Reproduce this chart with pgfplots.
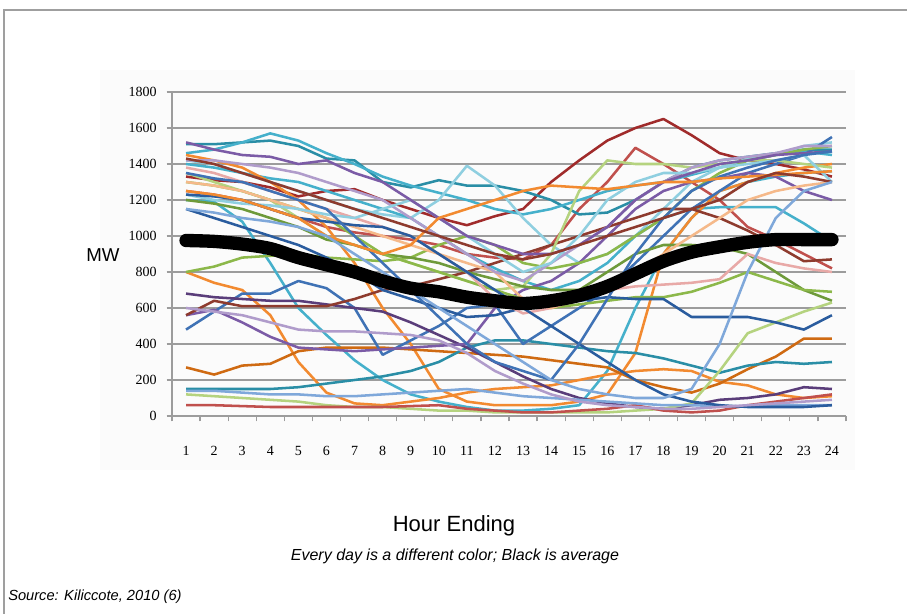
\documentclass[border=0pt]{standalone}
\usepackage{fontspec}
\setmainfont{Liberation Serif}
\setsansfont{Liberation Sans}
\usepackage{pgfplots}
\pgfplotsset{compat=1.18}

\definecolor{cteal}{HTML}{2A8EA6}
\definecolor{caqua}{HTML}{45B0CB}
\definecolor{claqua}{HTML}{8FCFE0}
\definecolor{cblue}{HTML}{3F72B5}
\definecolor{cdblue}{HTML}{2A5C9E}
\definecolor{clblue}{HTML}{7FA8DA}
\definecolor{cdred}{HTML}{A02B2B}
\definecolor{cred}{HTML}{C0504D}
\definecolor{cbrown}{HTML}{8E3B2E}
\definecolor{cgreen}{HTML}{8CB84A}
\definecolor{cdgreen}{HTML}{6E9A3A}
\definecolor{clgreen}{HTML}{B5D37F}
\definecolor{cpurple}{HTML}{7B5BA6}
\definecolor{cdpurple}{HTML}{5A3D7A}
\definecolor{clpurple}{HTML}{B09CCB}
\definecolor{corange}{HTML}{F28A30}
\definecolor{cdorange}{HTML}{CF6A12}
\definecolor{cpeach}{HTML}{F5B98A}
\definecolor{cpink}{HTML}{E8A9A7}
\definecolor{cgrid}{HTML}{9C9C9C}

\newcommand{\dayline}[2]{\addplot[#1] coordinates {#2};}

\begin{document}
\begin{tikzpicture}
% page frame, 907 x 614 px at 0.75pt per px
\path[use as bounding box] (0,0) rectangle (680.25pt,460.5pt);
\fill[gray!3] (75pt,108pt) rectangle (641pt,408pt);
\draw[line width=1.5pt, color=gray!75] (3pt,0pt) -- (3pt,453pt) -- (681pt,453pt);

\begin{axis}[
    at={(129pt,148.5pt)}, anchor=south west,
    scale only axis,
    width=505.5pt, height=243pt,
    xmin=0.5, xmax=24.5,
    ymin=0, ymax=1800,
    axis lines*=left,
    axis line style={cgrid, line width=1.2pt},
    xtick={1,...,24},
    minor xtick={0.5,1.5,...,24.5},
    ytick={0,200,...,1800},
    major x tick style={draw=none},
    minor x tick style={cgrid, line width=0.9pt},
    y tick style={cgrid, line width=0.9pt},
    tick align=outside,
    major tick length=4pt, minor tick length=4pt,
    ymajorgrids,
    grid style={cgrid, line width=1.4pt},
    /pgf/number format/1000 sep={},
    /pgf/number format/assume math mode=true,
    tick label style={font=\fontsize{10.5}{12}\selectfont},
    xticklabel style={yshift=-15pt},
    yticklabel style={xshift=-4pt},
    clip=false,
    every axis plot/.append style={line width=1.9pt, line join=round},
]
\dayline{cdred}{(1,1330)(2,1310)(3,1300)(4,1270)(5,1220)(6,1250)(7,1260)(8,1200)(9,1150)(10,1100)(11,1060)(12,1110)(13,1150)(14,1300)(15,1420)(16,1530)(17,1600)(18,1650)(19,1560)(20,1460)(21,1420)(22,1400)(23,1370)(24,1330)}
\dayline{cred}{(1,1250)(2,1230)(3,1200)(4,1150)(5,1100)(6,1050)(7,1020)(8,1000)(9,980)(10,950)(11,900)(12,880)(13,870)(14,950)(15,1150)(16,1300)(17,1490)(18,1400)(19,1300)(20,1200)(21,1050)(22,980)(23,900)(24,820)}
\dayline{cteal}{(1,1510)(2,1510)(3,1520)(4,1530)(5,1500)(6,1430)(7,1420)(8,1300)(9,1270)(10,1310)(11,1280)(12,1280)(13,1250)(14,1200)(15,1120)(16,1130)(17,1200)(18,1300)(19,1380)(20,1420)(21,1440)(22,1460)(23,1480)(24,1480)}
\dayline{caqua}{(1,1460)(2,1480)(3,1520)(4,1570)(5,1530)(6,1460)(7,1400)(8,1330)(9,1280)(10,1240)(11,1200)(12,1150)(13,1120)(14,1150)(15,1200)(16,1250)(17,1280)(18,1300)(19,1340)(20,1380)(21,1420)(22,1450)(23,1470)(24,1450)}
\dayline{claqua}{(1,1420)(2,1400)(3,1350)(4,1300)(5,1250)(6,1200)(7,1150)(8,1120)(9,1100)(10,1200)(11,1390)(12,1280)(13,1100)(14,950)(15,850)(16,900)(17,1000)(18,1150)(19,1300)(20,1380)(21,1430)(22,1450)(23,1500)(24,1520)}
\dayline{caqua}{(1,1200)(2,1190)(3,1080)(4,850)(5,600)(6,450)(7,310)(8,200)(9,120)(10,80)(11,50)(12,30)(13,30)(14,40)(15,60)(16,250)(17,600)(18,900)(19,1100)(20,1250)(21,1300)(22,1330)(23,1350)(24,1360)}
\dayline{caqua}{(1,1400)(2,1380)(3,1350)(4,1320)(5,1300)(6,1250)(7,1200)(8,1150)(9,1100)(10,1000)(11,900)(12,820)(13,750)(14,700)(15,750)(16,850)(17,1000)(18,1100)(19,1150)(20,1160)(21,1160)(22,1160)(23,1070)(24,970)}
\dayline{corange}{(1,800)(2,740)(3,700)(4,560)(5,300)(6,130)(7,70)(8,60)(9,80)(10,100)(11,130)(12,150)(13,160)(14,170)(15,200)(16,230)(17,250)(18,260)(19,250)(20,190)(21,170)(22,120)(23,100)(24,110)}
\dayline{corange}{(1,1450)(2,1420)(3,1380)(4,1300)(5,1200)(6,1050)(7,850)(8,600)(9,400)(10,150)(11,80)(12,60)(13,60)(14,60)(15,80)(16,120)(17,350)(18,900)(19,1100)(20,1250)(21,1300)(22,1350)(23,1380)(24,1400)}
\dayline{cdorange}{(1,270)(2,230)(3,280)(4,290)(5,360)(6,380)(7,380)(8,380)(9,370)(10,360)(11,350)(12,340)(13,330)(14,310)(15,290)(16,270)(17,200)(18,160)(19,130)(20,180)(21,260)(22,330)(23,430)(24,430)}
\dayline{cteal}{(1,150)(2,150)(3,150)(4,150)(5,160)(6,180)(7,200)(8,220)(9,250)(10,300)(11,380)(12,420)(13,420)(14,400)(15,380)(16,360)(17,350)(18,320)(19,280)(20,240)(21,280)(22,300)(23,290)(24,300)}
\dayline{cblue}{(1,480)(2,580)(3,680)(4,680)(5,750)(6,710)(7,600)(8,340)(9,420)(10,500)(11,600)(12,620)(13,400)(14,500)(15,600)(16,700)(17,850)(18,1000)(19,1150)(20,1250)(21,1350)(22,1400)(23,1450)(24,1550)}
\dayline{cdpurple}{(1,680)(2,660)(3,650)(4,640)(5,640)(6,620)(7,600)(8,580)(9,520)(10,450)(11,380)(12,300)(13,220)(14,150)(15,100)(16,70)(17,50)(18,40)(19,60)(20,90)(21,100)(22,120)(23,160)(24,150)}
\dayline{cpurple}{(1,560)(2,590)(3,520)(4,440)(5,380)(6,370)(7,360)(8,370)(9,380)(10,390)(11,400)(12,600)(13,700)(14,750)(15,850)(16,1000)(17,1150)(18,1250)(19,1300)(20,1320)(21,1350)(22,1330)(23,1250)(24,1200)}
\dayline{cbrown}{(1,560)(2,640)(3,610)(4,610)(5,610)(6,610)(7,650)(8,700)(9,720)(10,760)(11,800)(12,850)(13,900)(14,950)(15,1000)(16,1050)(17,1100)(18,1150)(19,1150)(20,1100)(21,1030)(22,950)(23,860)(24,870)}
\dayline{cgreen}{(1,800)(2,830)(3,880)(4,890)(5,900)(6,880)(7,870)(8,860)(9,880)(10,950)(11,1000)(12,950)(13,850)(14,820)(15,850)(16,900)(17,1000)(18,1100)(19,1250)(20,1350)(21,1420)(22,1450)(23,1480)(24,1500)}
\dayline{clgreen}{(1,1350)(2,1300)(3,1250)(4,1200)(5,1100)(6,1000)(7,950)(8,900)(9,850)(10,800)(11,750)(12,700)(13,720)(14,900)(15,1250)(16,1420)(17,1400)(18,1400)(19,1380)(20,1400)(21,1420)(22,1420)(23,1400)(24,1380)}
\dayline{cdgreen}{(1,1200)(2,1180)(3,1150)(4,1100)(5,1050)(6,980)(7,950)(8,900)(9,880)(10,850)(11,800)(12,760)(13,720)(14,700)(15,700)(16,800)(17,900)(18,950)(19,950)(20,940)(21,900)(22,800)(23,700)(24,640)}
\dayline{cgreen}{(1,1300)(2,1280)(3,1250)(4,1200)(5,1150)(6,1100)(7,1000)(8,900)(9,850)(10,800)(11,750)(12,700)(13,650)(14,600)(15,620)(16,640)(17,660)(18,660)(19,690)(20,740)(21,800)(22,750)(23,700)(24,690)}
\dayline{clgreen}{(1,120)(2,110)(3,100)(4,90)(5,80)(6,60)(7,50)(8,50)(9,40)(10,30)(11,30)(12,20)(13,20)(14,20)(15,20)(16,20)(17,30)(18,40)(19,70)(20,250)(21,460)(22,520)(23,580)(24,630)}
\dayline{cred}{(1,60)(2,60)(3,55)(4,50)(5,50)(6,50)(7,50)(8,50)(9,55)(10,60)(11,40)(12,30)(13,20)(14,20)(15,30)(16,40)(17,60)(18,30)(19,20)(20,30)(21,60)(22,80)(23,100)(24,120)}
\dayline{clblue}{(1,140)(2,140)(3,130)(4,120)(5,120)(6,110)(7,110)(8,120)(9,130)(10,140)(11,150)(12,130)(13,110)(14,100)(15,90)(16,80)(17,70)(18,60)(19,60)(20,55)(21,55)(22,60)(23,60)(24,60)}
\dayline{cdblue}{(1,1150)(2,1100)(3,1050)(4,1000)(5,950)(6,880)(7,800)(8,700)(9,650)(10,600)(11,550)(12,560)(13,600)(14,620)(15,640)(16,660)(17,650)(18,650)(19,550)(20,550)(21,550)(22,520)(23,480)(24,560)}
\dayline{cpink}{(1,1380)(2,1350)(3,1300)(4,1250)(5,1200)(6,1150)(7,1100)(8,1050)(9,1000)(10,900)(11,800)(12,650)(13,570)(14,600)(15,650)(16,700)(17,720)(18,730)(19,740)(20,760)(21,900)(22,850)(23,820)(24,800)}
\dayline{cpeach}{(1,1300)(2,1280)(3,1250)(4,1200)(5,1150)(6,1100)(7,1050)(8,1000)(9,950)(10,900)(11,850)(12,800)(13,650)(14,600)(15,650)(16,700)(17,800)(18,900)(19,1000)(20,1100)(21,1200)(22,1250)(23,1280)(24,1300)}
\dayline{clpurple}{(1,1420)(2,1420)(3,1400)(4,1380)(5,1350)(6,1300)(7,1250)(8,1200)(9,1100)(10,1000)(11,900)(12,800)(13,750)(14,850)(15,950)(16,1050)(17,1200)(18,1300)(19,1380)(20,1420)(21,1440)(22,1460)(23,1500)(24,1500)}
\dayline{claqua}{(1,1230)(2,1200)(3,1180)(4,1170)(5,1150)(6,1120)(7,1100)(8,1150)(9,1200)(10,1100)(11,1000)(12,900)(13,800)(14,850)(15,1000)(16,1200)(17,1300)(18,1350)(19,1350)(20,1380)(21,1400)(22,1420)(23,1450)(24,1300)}
\dayline{cpurple}{(1,1520)(2,1480)(3,1450)(4,1440)(5,1400)(6,1420)(7,1350)(8,1300)(9,1200)(10,1100)(11,1000)(12,950)(13,900)(14,900)(15,950)(16,1050)(17,1200)(18,1300)(19,1350)(20,1400)(21,1420)(22,1450)(23,1460)(24,1470)}
\dayline{cdblue}{(1,1230)(2,1220)(3,1200)(4,1150)(5,1100)(6,1080)(7,1060)(8,1050)(9,1000)(10,900)(11,800)(12,700)(13,600)(14,500)(15,400)(16,300)(17,200)(18,120)(19,80)(20,60)(21,50)(22,50)(23,50)(24,60)}
\dayline{cblue}{(1,1350)(2,1320)(3,1300)(4,1250)(5,1200)(6,1150)(7,1000)(8,850)(9,700)(10,550)(11,400)(12,300)(13,250)(14,200)(15,400)(16,650)(17,900)(18,1100)(19,1250)(20,1330)(21,1380)(22,1420)(23,1450)(24,1470)}
\dayline{corange}{(1,1250)(2,1230)(3,1200)(4,1150)(5,1100)(6,1000)(7,950)(8,900)(9,950)(10,1100)(11,1150)(12,1200)(13,1250)(14,1280)(15,1270)(16,1260)(17,1280)(18,1300)(19,1300)(20,1320)(21,1330)(22,1340)(23,1350)(24,1360)}
\dayline{cbrown}{(1,1430)(2,1400)(3,1350)(4,1300)(5,1250)(6,1200)(7,1150)(8,1100)(9,1050)(10,1000)(11,950)(12,900)(13,870)(14,900)(15,950)(16,1000)(17,1050)(18,1100)(19,1150)(20,1200)(21,1300)(22,1350)(23,1330)(24,1300)}
\dayline{clpurple}{(1,600)(2,580)(3,560)(4,520)(5,480)(6,470)(7,470)(8,460)(9,450)(10,420)(11,350)(12,250)(13,180)(14,120)(15,80)(16,60)(17,50)(18,40)(19,40)(20,50)(21,60)(22,70)(23,80)(24,90)}
\dayline{clblue}{(1,1150)(2,1130)(3,1100)(4,1080)(5,1050)(6,1000)(7,900)(8,800)(9,700)(10,600)(11,500)(12,400)(13,300)(14,200)(15,150)(16,120)(17,100)(18,100)(19,150)(20,400)(21,800)(22,1100)(23,1250)(24,1300)}
% average of all days
\addplot[black, line width=10pt, line cap=round, smooth] coordinates {(1,975)(2,970)(3,955)(4,930)(5,880)(6,840)(7,800)(8,750)(9,710)(10,690)(11,660)(12,640)(13,625)(14,640)(15,670)(16,720)(17,790)(18,860)(19,910)(20,940)(21,965)(22,980)(23,980)(24,980)};
\end{axis}

\node[font=\sffamily\fontsize{14}{16}\selectfont] at (77.25pt,269.25pt) {MW};
\node[font=\sffamily\fontsize{16.5}{19}\selectfont] at (340.5pt,66pt) {Hour Ending};
\node[font=\sffamily\itshape\fontsize{12}{14}\selectfont] at (341.25pt,43.5pt) {Every day is a different color; Black is average};
\node[font=\sffamily\itshape\fontsize{11}{13}\selectfont, anchor=west, inner sep=0pt] at (6pt,12.75pt) {Source: Kiliccote, 2010 (6)};
\end{tikzpicture}
\end{document}
